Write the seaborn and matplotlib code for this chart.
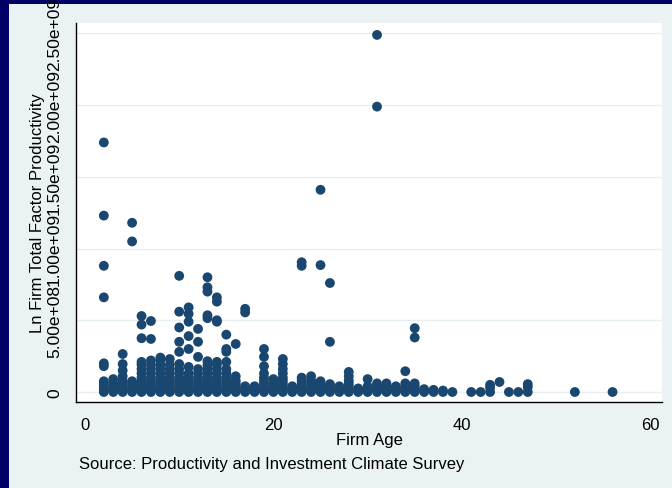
import matplotlib
matplotlib.use("Agg")
import matplotlib.pyplot as plt
import matplotlib.ticker as mticker
from matplotlib.patches import Rectangle
import seaborn as sns
import pandas as pd

# ---- data (values of TFP in units of 1e8) ----
ages = [2, 3, 4, 5, 6, 7, 8, 9, 10, 11, 12, 13, 14, 15, 16, 17, 18, 19, 20,
        21, 22, 23, 24, 25, 26, 27, 28, 29, 30, 31, 32, 33, 34, 35, 36, 37,
        38, 39, 41, 42, 43, 44, 45, 46, 47, 52, 56]
tfp_by_age_e8 = [
    [0, 0.1, 0.25, 0.4, 0.6, 0.75, 1.8, 2.0, 6.6, 8.8, 12.3, 17.4],          # 2
    [0, 0.1, 0.25, 0.4, 0.6, 0.9],                                           # 3
    [0, 0.1, 0.25, 0.4, 0.6, 0.8, 1.1, 1.5, 1.95, 2.65],                     # 4
    [0, 0.1, 0.25, 0.4, 0.6, 0.75, 10.5, 11.8],                              # 5
    [0, 0.1, 0.25, 0.4, 0.6, 0.8, 1.0, 1.3, 1.6, 1.9, 2.1, 3.75, 4.7, 5.3],  # 6
    [0, 0.1, 0.25, 0.4, 0.6, 0.8, 1.0, 1.3, 1.6, 1.9, 2.2, 3.7, 4.95],       # 7
    [0, 0.1, 0.25, 0.4, 0.6, 0.8, 1.0, 1.3, 1.6, 1.9, 2.2, 2.4],             # 8
    [0, 0.1, 0.25, 0.4, 0.6, 0.8, 1.0, 1.3, 1.6, 1.9, 2.3],                  # 9
    [0, 0.1, 0.25, 0.4, 0.6, 0.8, 1.0, 1.3, 1.6, 1.95, 2.8, 3.5, 4.5, 5.6, 8.1],  # 10
    [0, 0.1, 0.25, 0.4, 0.6, 0.8, 1.0, 1.3, 1.75, 3.0, 3.9, 4.9, 5.45, 5.9],      # 11
    [0, 0.1, 0.25, 0.4, 0.6, 0.8, 1.0, 1.3, 1.6, 2.45, 3.5, 4.4],                  # 12
    [0, 0.1, 0.25, 0.4, 0.6, 0.8, 1.0, 1.3, 1.6, 1.9, 2.15, 5.15, 5.35, 7.0, 7.3, 8.0],  # 13
    [0, 0.1, 0.25, 0.4, 0.6, 0.8, 1.0, 1.3, 1.6, 1.9, 2.1, 4.9, 5.0, 6.3, 6.6],   # 14
    [0, 0.1, 0.25, 0.4, 0.6, 0.8, 1.0, 1.3, 1.6, 2.1, 2.8, 3.0, 4.0],              # 15
    [0, 0.1, 0.25, 0.4, 0.6, 0.8, 1.1, 3.35],                                # 16
    [0, 0.1, 0.25, 0.4, 5.55, 5.8],                                          # 17
    [0, 0.1, 0.25, 0.4],                                                     # 18
    [0, 0.1, 0.25, 0.4, 0.6, 0.8, 1.0, 1.3, 1.8, 2.45, 3.0],                 # 19
    [0, 0.1, 0.25, 0.4, 0.6, 0.9],                                           # 20
    [0, 0.1, 0.25, 0.4, 0.6, 0.8, 1.0, 1.3, 1.6, 1.95, 2.3],                 # 21
    [0, 0.1, 0.25, 0.4],                                                     # 22
    [0, 0.1, 0.25, 0.4, 0.6, 0.8, 1.0, 8.8, 9.05],                           # 23
    [0, 0.1, 0.25, 0.4, 0.6, 0.8, 1.1],                                      # 24
    [0, 0.1, 0.25, 0.4, 0.6, 0.75, 8.85, 14.1],                              # 25
    [0, 0.1, 0.25, 0.4, 0.55, 3.5, 7.6],                                     # 26
    [0, 0.1, 0.25, 0.4],                                                     # 27
    [0, 0.1, 0.25, 0.4, 0.6, 0.8, 1.1, 1.4],                                 # 28
    [0, 0.1, 0.25],                                                          # 29
    [0, 0.1, 0.25, 0.4, 0.9],                                                # 30
    [0, 0.1, 0.25, 0.4, 0.6, 19.9, 24.9],                                    # 31
    [0, 0.1, 0.25, 0.4, 0.6],                                                # 32
    [0, 0.1, 0.25, 0.4],                                                     # 33
    [0, 0.1, 0.25, 0.4, 0.6, 1.45],                                          # 34
    [0, 0.1, 0.25, 0.4, 0.6, 3.8, 4.45],                                     # 35
    [0, 0.2],                                                                # 36
    [0, 0.15],                                                               # 37
    [0, 0.1],                                                                # 38
    [0],                                                                     # 39
    [0],                                                                     # 41
    [0],                                                                     # 42
    [0, 0.3, 0.5],                                                           # 43
    [0.7],                                                                   # 44
    [0],                                                                     # 45
    [0],                                                                     # 46
    [0, 0.35, 0.55],                                                         # 47
    [0],                                                                     # 52
    [0],                                                                     # 56
]
yticks = [0, 5e8, 1e9, 1.5e9, 2e9, 2.5e9]
xticks = [0, 20, 40, 60]

firm_age = []
tfp = []
for a, vals in zip(ages, tfp_by_age_e8):
    for v in vals:
        firm_age.append(a)
        tfp.append(v * 1e8)
df = pd.DataFrame({"Firm Age": firm_age, "TFP": tfp})

# ---- style ----
sns.set_style("white")
plt.rcParams["font.family"] = ["Liberation Sans", "DejaVu Sans"]

W, H = 672, 489
BG = "#EAF2F3"
NAVY = "#000066"
MARK = "#1A476F"
FS = 12

fig = plt.figure(figsize=(W / 100, H / 100), dpi=100, facecolor=BG)
fig.patches.append(Rectangle((0, 0), 9 / W, 1, transform=fig.transFigure,
                             facecolor=NAVY, edgecolor="none", zorder=-1))
fig.patches.append(Rectangle((0, 1 - 5 / H), 1, 5 / H, transform=fig.transFigure,
                             facecolor=NAVY, edgecolor="none", zorder=-1))

L, R, T, B = 76, 662, 24, 403
ax = fig.add_axes([L / W, 1 - B / H, (R - L) / W, (B - T) / H])
ax.set_facecolor("white")

sns.scatterplot(data=df, x="Firm Age", y="TFP", ax=ax, color=MARK, s=50,
                linewidth=0, edgecolor="none", zorder=3, legend=False)

ax.set_xlim(-0.955, 61.25)
ax.set_ylim(-6.97e7, 2.573e9)
ax.set_xticks(xticks)
ax.set_yticks(yticks)

def yfmt(v, pos):
    return "0" if v == 0 else "%.2e" % v
ax.yaxis.set_major_formatter(mticker.FuncFormatter(yfmt))

ax.grid(axis="y", color="#E6EEF0", linewidth=1.0, zorder=0)
ax.grid(axis="x", visible=False)
for s in ["top", "right"]:
    ax.spines[s].set_visible(False)
for s in ["left", "bottom"]:
    ax.spines[s].set_color("black")
    ax.spines[s].set_linewidth(1.0)

ax.tick_params(axis="both", direction="out", length=5, width=1, color="black",
               labelcolor="black")
ax.tick_params(axis="y", pad=5, labelsize=12.5)
ax.tick_params(axis="x", pad=5.5, labelsize=FS)
for lab in ax.get_yticklabels():
    lab.set_rotation(90)
    lab.set_va("center")
    lab.set_ha("right")

ax.set_xlabel("Firm Age", fontsize=FS, color="black")
ax.set_ylabel("Ln Firm Total Factor Productivity", fontsize=FS, color="black")
ax.xaxis.set_label_coords(0.5, -0.079)
ax.yaxis.set_label_coords(-0.053, 0.5)

fig.text(79 / W, 1 - 465 / H, "Source: Productivity and Investment Climate Survey",
         fontsize=FS, color="black", va="center", ha="left")

fig.savefig("out.png", dpi=100, facecolor=BG)
